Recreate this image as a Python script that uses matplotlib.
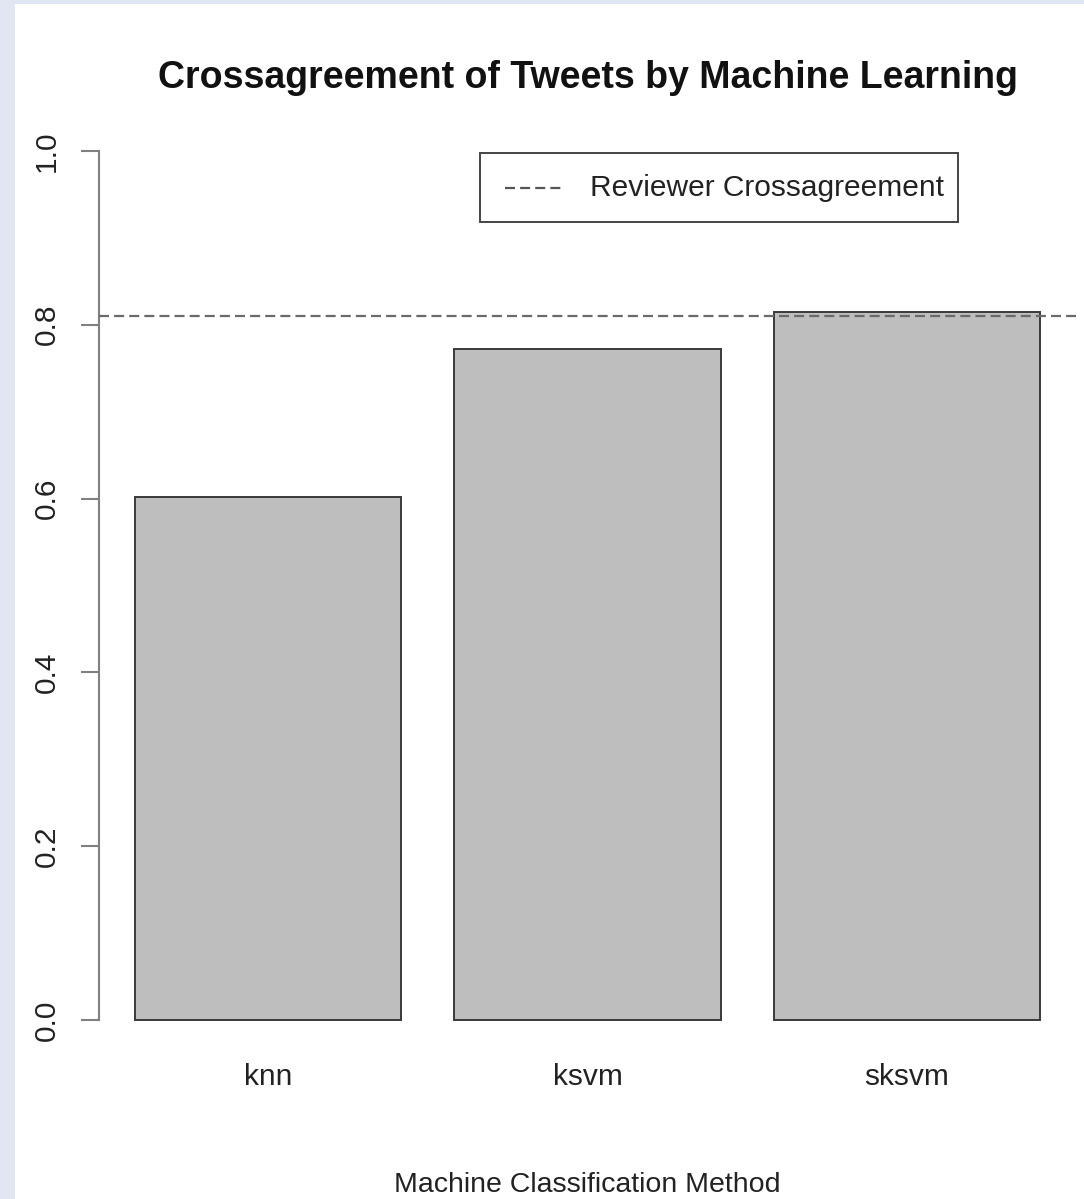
import matplotlib
matplotlib.use("Agg")
import matplotlib.pyplot as plt
from matplotlib.patches import Rectangle
from matplotlib.lines import Line2D

# data
methods = ["knn", "ksvm", "sksvm"]
agreement = [0.602, 0.772, 0.815]
reviewer_agreement = 0.810
y_ticks = [0.0, 0.2, 0.4, 0.6, 0.8, 1.0]

W, H = 1084, 1199
plt.rcParams['font.family'] = ['Liberation Sans', 'DejaVu Sans']

fig = plt.figure(figsize=(W / 100, H / 100), dpi=100, facecolor='#e0e6f2')

def fx(px):
    return px / W

def fy(py):
    return 1 - py / H

# white page inside the light blue frame
fig.patches.append(Rectangle((fx(15), 0), 1 - fx(15), fy(4), transform=fig.transFigure,
                             facecolor='white', edgecolor='none', zorder=-5))

# plot region (R barplot style: 4% extension around bars and ylim)
left, right, top, bottom = 99, 1076, 116, 1055
ax = fig.add_axes([fx(left), fy(bottom), fx(right - left), (bottom - top) / H])
ax.set_facecolor('none')
ax.set_zorder(1)

dash = (0, (4.5, 2.3))

# barplot with width 1 and space 0.2
xs = [0.2 + 1.2 * i + 0.5 for i in range(len(methods))]
ax.bar(xs, agreement, width=1.0, color='#bebebe', edgecolor='#3a3a3a', linewidth=1.4, zorder=2)
ax.axhline(reviewer_agreement, color='#6a6a6a', linewidth=1.6, linestyle=dash, zorder=3)

span = 3.6 - 0.2
ax.set_xlim(0.2 - 0.04 * span, 3.6 + 0.04 * span)
ax.set_ylim(-0.04, 1.04)

for s in ['top', 'right', 'bottom']:
    ax.spines[s].set_visible(False)
ax.spines['left'].set_bounds(0, 1)
ax.spines['left'].set_color('#808080')
ax.spines['left'].set_linewidth(1.5)

ax.set_yticks(y_ticks)
ax.set_yticklabels(["%.1f" % v for v in y_ticks], rotation=90, va='center', fontsize=21.5, color='#222222')
ax.tick_params(axis='y', length=13, width=1.5, color='#808080', pad=14.5)

ax.set_xticks(xs)
ax.set_xticklabels(methods, fontsize=21.5, color='#222222')
ax.tick_params(axis='x', length=0, pad=6)

# titles
fig.text(fx(588), fy(78), "Crossagreement of Tweets by Machine Learning",
         fontsize=27, fontweight='bold', ha='center', va='center', color='#111111')
fig.text(fx(587.5), fy(1185), "Machine Classification Method",
         fontsize=20.5, ha='center', va='center', color='#222222')

# legend drawn like R's legend box
fig.patches.append(Rectangle((fx(480), fy(222)), fx(958 - 480), (222 - 153) / H,
                             transform=fig.transFigure, facecolor='white',
                             edgecolor='#444444', linewidth=1.4, zorder=4))
fig.lines.append(Line2D([fx(505), fx(563)], [fy(188), fy(188)], transform=fig.transFigure,
                        color='#555555', linewidth=1.6, linestyle=dash, zorder=5))
fig.text(fx(590), fy(188), "Reviewer Crossagreement", fontsize=21.5,
         ha='left', va='center', color='#222222', zorder=6)

fig.savefig("out.png", dpi=100, facecolor=fig.get_facecolor())
